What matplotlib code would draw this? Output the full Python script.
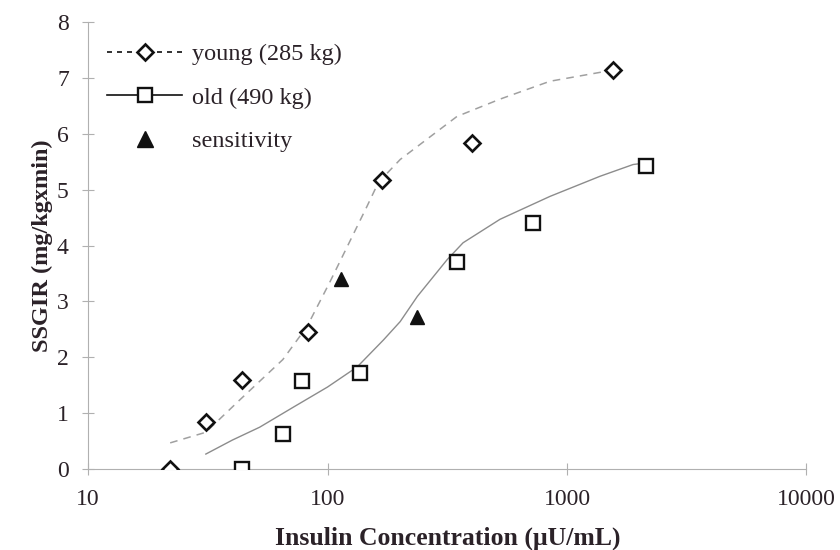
import numpy as np
import matplotlib
matplotlib.use("Agg")
import matplotlib.pyplot as plt
from matplotlib.lines import Line2D

# measured points
young_x = [22, 31, 44, 83, 169, 401, 1556]
young_y = [0.0, 0.84, 1.6, 2.45, 5.17, 5.83, 7.14]
old_x = [44, 65, 78, 137, 348, 721, 2140]
old_y = [0.0, 0.62, 1.57, 1.72, 3.71, 4.41, 5.42]
sens_x = [114, 237]
sens_y = [3.41, 2.73]

# fitted curves
young_fit_x = [22, 31, 43, 65, 82, 102, 146, 163, 201, 347, 525, 849, 1556]
young_fit_y = [0.47, 0.66, 1.24, 1.96, 2.55, 3.34, 4.70, 5.13, 5.54, 6.31, 6.62, 6.94, 7.14]
old_fit_x = [31, 40, 52, 72, 100, 133, 171, 201, 237, 316, 368, 525, 849, 1374, 1888, 2140]
old_fit_y = [0.27, 0.52, 0.75, 1.11, 1.47, 1.83, 2.31, 2.64, 3.09, 3.75, 4.05, 4.47, 4.88, 5.24, 5.45, 5.48]

yticks = [0, 1, 2, 3, 4, 5, 6, 7, 8]
xticks = [10, 100, 1000, 10000]
xtick_labels = ["10", "100", "1000", "10000"]
labels = ["young (285 kg)", "old (490 kg)", "sensitivity"]

plt.rcParams["font.family"] = ["Liberation Serif", "DejaVu Serif"]
txt = "#2b2228"
axc = "#b0b0b0"

fig = plt.figure(figsize=(8.4, 5.5), dpi=100)
ax = fig.add_axes([0.105, 0.147, 0.855, 0.813])

ax.plot(young_fit_x, young_fit_y, ls=(0, (5, 4)), color="#a0a0a0", lw=1.1, zorder=2)
ax.plot(old_fit_x, old_fit_y, ls="-", color="#8c8c8c", lw=1.0, zorder=2)
ax.plot(young_x, young_y, ls="none", marker="D", ms=8, mfc="white", mec="#111111", mew=1.9, zorder=3)
ax.plot(old_x, old_y, ls="none", marker="s", ms=9.5, mfc="white", mec="#111111", mew=1.7, zorder=3)
ax.plot(sens_x, sens_y, ls="none", marker="^", ms=10, color="#111111", zorder=3)

ax.set_xscale("log")
ax.set_xlim(10, 10000)
ax.set_ylim(0, 8)
ax.set_xticks(xticks)
ax.set_xticklabels(xtick_labels)
ax.set_yticks(yticks)
ax.minorticks_off()
ax.tick_params(axis="both", direction="inout", length=8, width=0.8, color=axc,
               labelsize=17, labelcolor=txt)
ax.tick_params(axis="x", pad=10)
ax.tick_params(axis="y", pad=10)
for s in ["top", "right"]:
    ax.spines[s].set_visible(False)
for s in ["left", "bottom"]:
    ax.spines[s].set_color(axc)
    ax.spines[s].set_linewidth(0.8)

ax.set_xlabel("Insulin Concentration (\u03bcU/mL)", fontsize=18.5, fontweight="bold",
              color=txt, labelpad=12)
ax.set_ylabel("SSGIR (mg/kgxmin)", fontsize=17.5, fontweight="bold", color=txt, labelpad=3)

handles = [
    Line2D([], [], ls=(0, (3, 3)), color="#111111", lw=1.2, marker="D", ms=8, mfc="white", mew=1.9),
    Line2D([], [], ls="-", color="#111111", lw=1.2, marker="s", ms=9.5, mfc="white", mew=1.7),
    Line2D([], [], ls="none", color="#111111", marker="^", ms=11),
]
ax.legend(handles, labels, loc="upper left", bbox_to_anchor=(0.026, 0.952),
          borderaxespad=0, borderpad=0, frameon=False, fontsize=17.5, handlelength=3.1,
          handletextpad=0.4, labelspacing=0.88, labelcolor=txt)

fig.savefig("out.png", dpi=100)
